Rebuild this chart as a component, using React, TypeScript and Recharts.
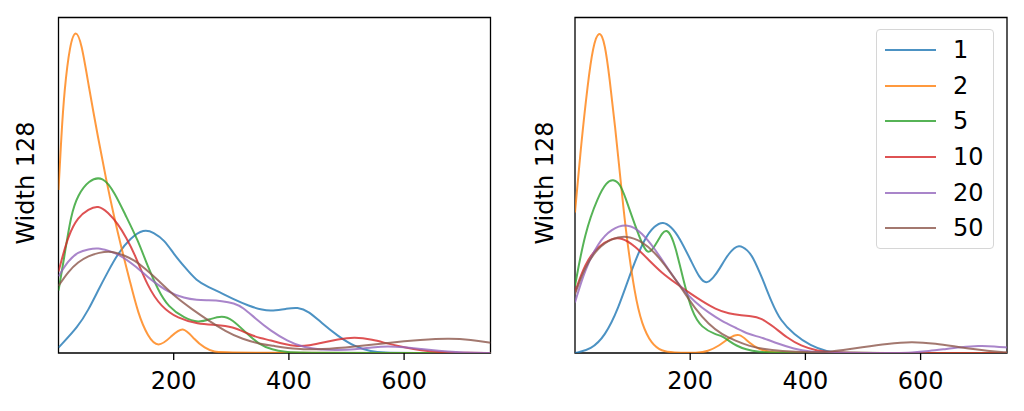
import React from 'react';
import { LineChart, Line, XAxis, YAxis, ReferenceArea } from 'recharts';

type Pt = [number, number];

const seriesLabels = ['1', '2', '5', '10', '20', '50'];
const seriesColors = ['#1f77b4', '#ff7f0e', '#2ca02c', '#d62728', '#9467bd', '#8c564b'];
const xTicks = [200, 400, 600];
const xDomain: [number, number] = [0, 750];
const yDomain: [number, number] = [0, 105];
const yLabel = 'Width 128';

// Left panel
const left1: Pt[] = [[0,1.7],[34,8.2],[52,13.5],[69,19.7],[86,25.5],[103,31.1],[125,36],[148,38.8],[165,37.8],[184,35.3],[200,31],[219,26.9],[240,22.5],[260,20.7],[280,19],[302,17],[331,14.7],[354,13.4],[372,13.2],[395,13.8],[415,14.4],[435,13],[456,9.5],[485,5.3],[514,2],[543,0.4],[566,0.1],[600,0],[750,0]];
const left2: Pt[] = [[0,51],[5,68],[10,82],[20,97],[30,101.5],[40,97],[52,84],[69,67],[83,54],[96,43],[109,33],[124,22.5],[138,12.4],[155,5.1],[173,1.5],[195,5],[216,8.8],[236,4.1],[254,1.5],[270,0.3],[290,0],[750,0]];
const left5: Pt[] = [[0,19.5],[10,30],[22,43.6],[34,49.5],[52,54],[77,55.5],[98,50],[115,43.6],[138,35.3],[155,27],[173,19.7],[190,14.5],[219,10.8],[243,9.5],[262,10.5],[284,11.8],[302,10.5],[325,6.4],[348,2.7],[371,1],[395,0.3],[415,0],[750,0]];
const left10: Pt[] = [[0,25.5],[17,37],[34,42.6],[52,45],[69,46.3],[86,44],[103,40.5],[118,36],[132,31.1],[155,20.7],[178,14.5],[207,10.8],[242,9.1],[273,8.8],[302,8.3],[331,5.8],[351,4.6],[368,4],[390,2.8],[415,2],[435,2.3],[456,3.2],[485,4.3],[514,5],[545,4.2],[572,2.9],[600,1.8],[630,0.8],[660,0.3],[690,0.1],[750,0]];
const left20: Pt[] = [[0,24],[17,29],[34,31.6],[52,32.5],[69,32.9],[86,32],[103,31.1],[132,27.5],[161,22.8],[190,19.1],[219,17.1],[240,16.6],[260,16.5],[284,16.3],[305,15.6],[320,14.3],[342,10.8],[368,7],[397,3.8],[426,1.7],[456,1],[485,0.9],[514,1.1],[545,1.8],[572,2.2],[600,1.8],[630,1.2],[660,0.7],[690,0.3],[720,0.1],[750,0]];
const left50: Pt[] = [[0,21],[17,25.5],[34,28.5],[52,30.4],[70,31.4],[92,32],[116,30.4],[132,29],[150,26.5],[173,22.8],[203,17.5],[232,13.7],[260,10.2],[290,6.8],[319,4.3],[354,2.7],[368,2.4],[415,1.1],[456,1.1],[514,2],[572,3.2],[630,4.1],[676,4.6],[717,4.2],[750,3.2]];

// Right panel
const right1: Pt[] = [[0,0],[28,1.1],[52,5.3],[75,13.7],[98,26],[121,36],[138,39.8],[153,41.2],[167,39.5],[180,36.6],[203,28.3],[216,23.5],[228,21.5],[240,23.5],[250,26],[267,31.4],[285,34.3],[300,32],[308,30.4],[325,23.5],[341,16],[357,10],[380,5.9],[409,2.2],[438,0.4],[460,0.1],[490,0],[750,0]];
const right2: Pt[] = [[0,44],[11,66],[22,84],[31,96],[42,101.5],[52,97],[60,86],[69,72],[82,49],[89,37],[104,18],[116,9],[133,2.7],[151,0.6],[168,0.1],[215,0],[230,0.5],[250,2.2],[268,4.8],[285,6.4],[302,3.2],[320,1.1],[337,0.3],[360,0],[750,0]];
const right5: Pt[] = [[0,21],[17,37.7],[40,49],[55,53.5],[66,54.5],[78,53],[87,49],[104,40],[119,33],[127,31.2],[135,32.5],[142,34.5],[152,37.8],[159,38.5],[166,37.2],[174,33.5],[188,23],[203,12.6],[220,7.9],[244,5.8],[256,5.3],[267,3.8],[280,2.3],[296,1.1],[320,0.3],[345,0],[750,0]];
const right10: Pt[] = [[0,19],[17,28],[40,33.5],[63,35.8],[81,36.2],[104,33.5],[127,29.3],[151,25],[174,22],[197,19],[220,16.3],[244,13.7],[267,12.3],[290,11.8],[305,11.5],[322,11.1],[345,8.2],[368,4.8],[392,2.2],[421,0.6],[450,0.2],[480,0],[750,0]];
const right20: Pt[] = [[0,15.8],[17,26],[40,34.5],[63,38.9],[92,40.6],[116,37.7],[139,32.5],[162,26.2],[186,20],[209,15.8],[232,12.6],[255,10],[279,7.9],[302,5.8],[322,5],[351,3],[380,1.3],[409,0.4],[440,0.1],[500,0],[560,0],[584,0.1],[615,0.6],[642,1.2],[670,1.8],[700,2.3],[729,2.1],[750,1.7]];
const right50: Pt[] = [[0,18.4],[17,27],[40,33],[63,35.8],[89,36.8],[116,35],[139,31.4],[162,26.2],[186,20],[209,13.7],[232,9],[255,5.8],[279,3.8],[302,2.2],[325,1.3],[357,0.6],[409,0.1],[438,0.3],[465,0.9],[496,1.7],[543,2.9],[584,3.6],[625,3],[671,1.7],[718,0.6],[750,0.2]];

const leftSeries = [left1, left2, left5, left10, left20, left50];
const rightSeries = [right1, right2, right5, right10, right20, right50];

const FONT = '"DejaVu Sans", sans-serif';

function toRows(pts: Pt[]) {
  return pts.map(([x, y]) => ({ x, y }));
}

function Panel({ series, left, marginLeft, marginRight, labelX }: { series: Pt[][]; left: number; marginLeft: number; marginRight: number; labelX: number }) {
  return (
    <>
      <div style={{ position: 'absolute', left, top: 0, width: 512, height: 411 }}>
        <LineChart width={512} height={411} margin={{ top: 17.5, left: marginLeft, right: marginRight, bottom: 0 }}>
          <XAxis
            dataKey="x"
            type="number"
            domain={xDomain}
            ticks={xTicks}
            allowDataOverflow
            height={58}
            axisLine={false}
            tickSize={7}
            tickMargin={12}
            tickLine={{ stroke: '#000', strokeWidth: 1.3 }}
            tick={{ fill: '#000', fontSize: 24, fontFamily: FONT }}
          />
          <YAxis hide type="number" domain={yDomain} allowDataOverflow />
          {series.map((pts, i) => (
            <Line
              key={seriesLabels[i]}
              data={toRows(pts)}
              dataKey="y"
              type="basis"
              stroke={seriesColors[i]}
              strokeOpacity={0.8}
              strokeWidth={2}
              dot={false}
              activeDot={false}
              isAnimationActive={false}
            />
          ))}
          <ReferenceArea x1={xDomain[0]} x2={xDomain[1]} y1={yDomain[0]} y2={yDomain[1]} fill="none" fillOpacity={0} stroke="#000" strokeWidth={1.3} ifOverflow="visible" />
        </LineChart>
      </div>
      <div
        style={{
          position: 'absolute',
          left: labelX,
          top: 182.5,
          transform: 'translate(-50%, -50%) rotate(-90deg)',
          whiteSpace: 'nowrap',
          fontFamily: FONT,
          fontSize: 24,
          color: '#000',
          lineHeight: 1,
        }}
      >
        {yLabel}
      </div>
    </>
  );
}

function LegendBox() {
  return (
    <div
      style={{
        position: 'absolute',
        left: 876,
        top: 29.3,
        width: 118,
        height: 220,
        boxSizing: 'border-box',
        border: '1.3px solid #d6d6d6',
        borderRadius: 4,
        background: 'rgba(255,255,255,0.8)',
        fontFamily: FONT,
        fontSize: 24,
      }}
    >
      {seriesLabels.map((lab, i) => (
        <div key={lab} style={{ position: 'absolute', left: 0, top: 19.7 + i * 35.7, width: '100%', height: 0 }}>
          <div style={{ position: 'absolute', left: 8, top: -1, width: 51, height: 2, background: seriesColors[i], opacity: 0.8 }} />
          <div style={{ position: 'absolute', left: 76, top: -14, lineHeight: '28px', color: '#000', whiteSpace: 'nowrap' }}>{lab}</div>
        </div>
      ))}
    </div>
  );
}

export default function App() {
  return (
    <div style={{ position: 'absolute', left: 0, top: 0, width: 1024, height: 411, background: '#fff', overflow: 'hidden' }}>
      <Panel series={leftSeries} left={0} marginLeft={58.5} marginRight={21.5} labelX={26.2} />
      <Panel series={rightSeries} left={512} marginLeft={63} marginRight={17} labelX={544.5} />
      <LegendBox />
    </div>
  );
}
